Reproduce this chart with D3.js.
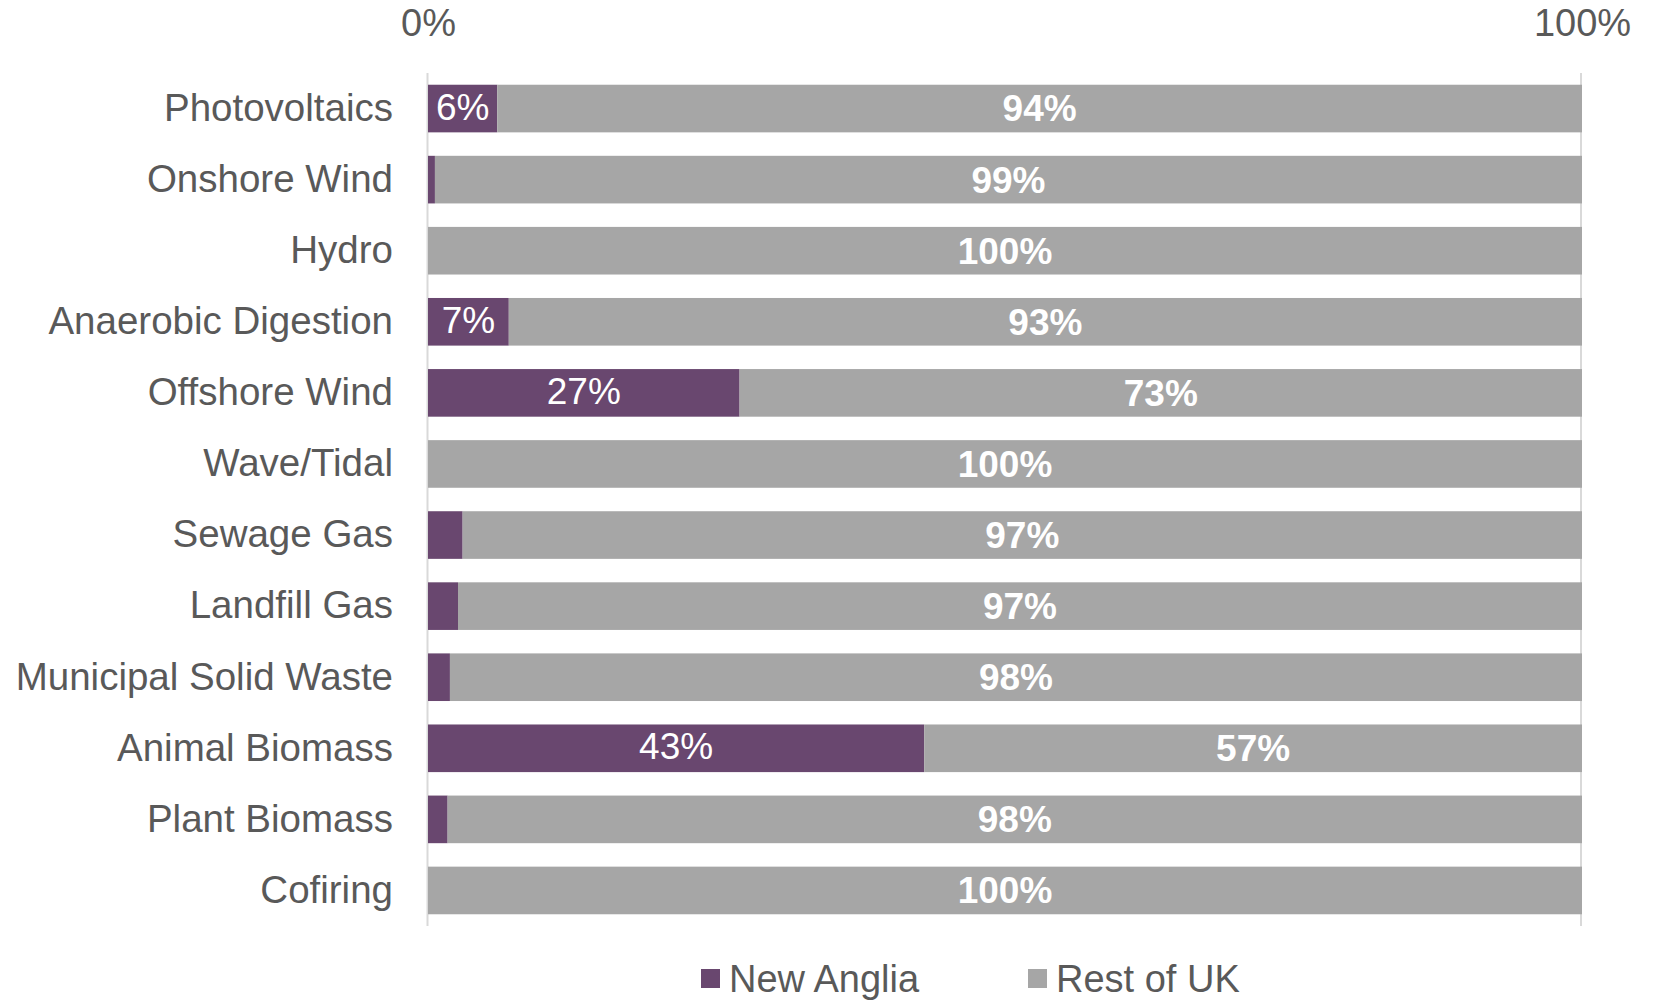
<!DOCTYPE html>
<html>
<head>
<meta charset="utf-8">
<script src="https://cdn.jsdelivr.net/npm/d3@7"></script>
<style>
  html, body { margin: 0; padding: 0; background: #ffffff; }
  svg { display: block; font-family: "Liberation Sans", Arial, Helvetica, sans-serif; }
</style>
</head>
<body>
<svg id="chart" width="1654" height="1000"></svg>
<script>
// Share of installed renewable capacity: New Anglia vs the rest of the UK
const categories = [
  "Photovoltaics", "Onshore Wind", "Hydro", "Anaerobic Digestion",
  "Offshore Wind", "Wave/Tidal", "Sewage Gas", "Landfill Gas",
  "Municipal Solid Waste", "Animal Biomass", "Plant Biomass", "Cofiring"
];
const newAnglia = [6, 0.6, 0, 7, 27, 0, 3.0, 2.6, 1.9, 43, 1.7, 0];
const restOfUK  = [94, 99.4, 100, 93, 73, 100, 97.0, 97.4, 98.1, 57, 98.3, 100];
const seriesNames = ["New Anglia", "Rest of UK"];
const seriesColors = ["#69476f", "#a6a6a6"];
const xTicks = [0, 100];

const svg = d3.select("#chart");
const textColor = "#595959";

const x = d3.scaleLinear().domain([0, 100]).range([428, 1582]);
const y = d3.scaleBand().domain(categories).range([73, 926])
  .paddingInner(0.33).paddingOuter(0.165);

const rows = categories.map((c, i) => ({ category: c, na: newAnglia[i], rest: restOfUK[i] }));
const stacked = d3.stack().keys(["na", "rest"])(rows);

// vertical gridlines at 0% and 100%
svg.append("g").selectAll("line").data(xTicks).join("line")
  .attr("x1", d => x(d) - (d === 0 ? 0.5 : 1))
  .attr("x2", d => x(d) - (d === 0 ? 0.5 : 1))
  .attr("y1", y.range()[0]).attr("y2", y.range()[1])
  .attr("stroke", "#d9d9d9").attr("stroke-width", 2);

// stacked bars
const layers = svg.append("g").selectAll("g").data(stacked).join("g")
  .attr("fill", (d, i) => seriesColors[i]);
layers.selectAll("rect").data(d => d).join("rect")
  .attr("x", d => x(d[0]))
  .attr("width", d => Math.max(0, x(d[1]) - x(d[0])))
  .attr("y", d => y(d.data.category))
  .attr("height", y.bandwidth());

// value labels
const fmt = v => d3.format(".0f")(v) + "%";
svg.append("g").selectAll("text")
  .data(stacked[0].filter(d => d[1] - d[0] >= 5))
  .join("text")
  .attr("x", d => (x(d[0]) + x(d[1])) / 2)
  .attr("y", d => y(d.data.category) + y.bandwidth() / 2)
  .attr("dy", "0.3em")
  .attr("text-anchor", "middle")
  .attr("fill", "#ffffff")
  .attr("font-size", 37)
  .text(d => fmt(d.data.na));

svg.append("g").selectAll("text")
  .data(stacked[1])
  .join("text")
  .attr("x", d => (x(d[0]) + x(d[1])) / 2)
  .attr("y", d => y(d.data.category) + y.bandwidth() / 2)
  .attr("dy", "0.35em")
  .attr("text-anchor", "middle")
  .attr("fill", "#ffffff")
  .attr("font-size", 37)
  .attr("font-weight", "bold")
  .text(d => fmt(d.data.rest));

// top axis: 0% and 100%
const xAxis = svg.append("g")
  .attr("transform", `translate(0, ${y.range()[0]})`)
  .call(d3.axisTop(x).tickValues(xTicks).tickSize(0).tickPadding(37).tickFormat(d => d + "%"));
xAxis.select(".domain").remove();
xAxis.selectAll("text").attr("font-size", 38).attr("fill", textColor)
  .attr("font-family", "\"Liberation Sans\", Arial, sans-serif");

// category axis
const yAxis = svg.append("g")
  .attr("transform", `translate(${x(0)}, 0)`)
  .call(d3.axisLeft(y).tickSize(0).tickPadding(35));
yAxis.select(".domain").remove();
yAxis.selectAll("text").attr("font-size", 38.5).attr("fill", textColor)
  .attr("font-family", "\"Liberation Sans\", Arial, sans-serif");

// legend
const legendItems = [
  { name: seriesNames[0], color: seriesColors[0], x: 701 },
  { name: seriesNames[1], color: seriesColors[1], x: 1028 }
];
const legend = svg.append("g").selectAll("g").data(legendItems).join("g")
  .attr("transform", d => `translate(${d.x}, 969)`);
legend.append("rect").attr("width", 19).attr("height", 19).attr("fill", d => d.color);
legend.append("text")
  .attr("x", 28).attr("y", 23)
  .attr("font-size", 38).attr("fill", textColor)
  .text(d => d.name);
</script>
</body>
</html>
